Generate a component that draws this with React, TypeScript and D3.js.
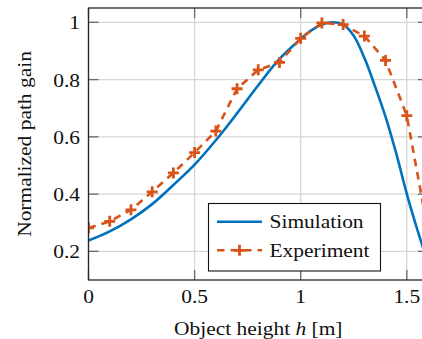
import React from "react";
import * as d3 from "d3";

// Object height h [m] at which the experiment was sampled
const expHeights = [0, 0.1, 0.2, 0.3, 0.4, 0.5, 0.6, 0.7, 0.8, 0.9, 1.0, 1.1, 1.2, 1.3, 1.4, 1.5, 1.6];
// Normalized path gain measured in the experiment
const expGain = [0.282, 0.305, 0.345, 0.408, 0.474, 0.545, 0.62, 0.768, 0.834, 0.86, 0.944, 0.998, 0.992, 0.952, 0.867, 0.674, 0.27];

// Simulated normalized path gain
const simHeights = [0, 0.1, 0.2, 0.3, 0.4, 0.5, 0.6, 0.7, 0.8, 0.9, 1.0, 1.05, 1.1, 1.15, 1.2, 1.25, 1.3, 1.35, 1.4, 1.45, 1.5, 1.55, 1.6];
const simGain = [0.238, 0.27, 0.312, 0.365, 0.432, 0.503, 0.588, 0.682, 0.78, 0.872, 0.942, 0.972, 0.992, 1.0, 0.992, 0.953, 0.876, 0.777, 0.67, 0.543, 0.401, 0.275, 0.16];

const xTicks = [0, 0.5, 1, 1.5];
const yTicks = [0.2, 0.4, 0.6, 0.8, 1];
const xTickLabels = ["0", "0.5", "1", "1.5"];
const yTickLabels = ["0.2", "0.4", "0.6", "0.8", "1"];

const W = 422;
const H = 339;
const plot = { left: 88.5, top: 8, right: 428, bottom: 280 };

const BLUE = "#0072BD";
const ORANGE = "#D95319";
const FONT = '"Liberation Serif", "DejaVu Serif", serif';
const FS = 19.5;
const SX = 1.1; // horizontal widening of the serif glyphs
const TICK = 10;

function Plus({ x, y }: { x: number; y: number }) {
  const s = 5.5;
  return (
    <path
      d={`M${x - s},${y}H${x + s}M${x},${y - s}V${y + s}`}
      stroke={ORANGE}
      strokeWidth={2.8}
      fill="none"
    />
  );
}

function Label({ x, y, anchor, children, rotate = 0 }: any) {
  return (
    <text
      transform={`translate(${x},${y}) rotate(${rotate}) scale(${SX},1)`}
      textAnchor={anchor}
      style={{ fontFamily: FONT, fontSize: `${FS}px` }}
      fill="#111"
    >
      {children}
    </text>
  );
}

export default function App() {
  const x = d3.scaleLinear().domain([0, 1.6]).range([plot.left, plot.right]);
  const y = d3.scaleLinear().domain([0.1, 1.05]).range([plot.bottom, plot.top]);

  const simLine = d3
    .line<number>()
    .x((_, i) => x(simHeights[i]))
    .y((d) => y(d))
    .curve(d3.curveCatmullRom.alpha(0.5))(simGain) as string;

  const expLine = d3
    .line<number>()
    .x((_, i) => x(expHeights[i]))
    .y((d) => y(d))(expGain) as string;

  const legend = { x0: 208.5, y0: 203.5, x1: 380.5, y1: 271 };
  const row1 = 221.7;
  const row2 = 250.3;
  const sampleX0 = 217;
  const sampleX1 = 262;

  return (
    <svg
      width={W}
      height={H}
      viewBox={`0 0 ${W} ${H}`}
      style={{ position: "absolute", left: 0, top: 0, background: "#fff" }}
    >
      <defs>
        <clipPath id="plot-area">
          <rect x={plot.left} y={plot.top} width={plot.right - plot.left} height={plot.bottom - plot.top} />
        </clipPath>
      </defs>
      <rect width={W} height={H} fill="#fff" />

      {/* grid */}
      <g stroke="#d6d6d6" strokeWidth={1.3}>
        {xTicks.map((t) => (
          <line key={`gx${t}`} x1={x(t)} x2={x(t)} y1={plot.top} y2={plot.bottom} />
        ))}
        {yTicks.map((t) => (
          <line key={`gy${t}`} x1={plot.left} x2={plot.right} y1={y(t)} y2={y(t)} />
        ))}
      </g>

      {/* ticks on all four sides, pointing inward */}
      <g stroke="#6a6a6a" strokeWidth={1.3}>
        {xTicks.map((t) => (
          <g key={`tx${t}`}>
            <line x1={x(t)} x2={x(t)} y1={plot.bottom} y2={plot.bottom - TICK} />
            <line x1={x(t)} x2={x(t)} y1={plot.top} y2={plot.top + TICK} />
          </g>
        ))}
        {yTicks.map((t) => (
          <g key={`ty${t}`}>
            <line x1={plot.left} x2={plot.left + TICK} y1={y(t)} y2={y(t)} />
            <line x1={plot.right} x2={plot.right - TICK} y1={y(t)} y2={y(t)} />
          </g>
        ))}
      </g>

      {/* data */}
      <g clipPath="url(#plot-area)">
        <path d={simLine} fill="none" stroke={BLUE} strokeWidth={2.6} />
        <path d={expLine} fill="none" stroke={ORANGE} strokeWidth={2.6} strokeDasharray="7.5 6" />
        {expGain.map((g, i) => (
          <Plus key={`m${i}`} x={x(expHeights[i])} y={y(g)} />
        ))}
      </g>

      {/* axis frame */}
      <rect
        x={plot.left}
        y={plot.top}
        width={plot.right - plot.left}
        height={plot.bottom - plot.top}
        fill="none"
        stroke="#262626"
        strokeWidth={1.3}
      />

      {/* tick labels */}
      {xTicks.map((t, i) => (
        <Label key={`lx${t}`} x={x(t)} y={303.3} anchor="middle">
          {xTickLabels[i]}
        </Label>
      ))}
      {yTicks.map((t, i) => (
        <Label key={`ly${t}`} x={80} y={y(t) + 7} anchor="end">
          {yTickLabels[i]}
        </Label>
      ))}

      {/* axis titles */}
      <Label x={(plot.left + plot.right) / 2} y={335} anchor="middle">
        Object height <tspan fontStyle="italic">h</tspan> [m]
      </Label>
      <Label x={31} y={(plot.top + plot.bottom) / 2} anchor="middle" rotate={-90}>
        Normalized path gain
      </Label>

      {/* legend */}
      <rect
        x={legend.x0}
        y={legend.y0}
        width={legend.x1 - legend.x0}
        height={legend.y1 - legend.y0}
        fill="#fff"
        stroke="#111"
        strokeWidth={1.1}
      />
      <line x1={sampleX0} x2={sampleX1} y1={row1} y2={row1} stroke={BLUE} strokeWidth={2.6} />
      <line
        x1={sampleX0}
        x2={sampleX1}
        y1={row2}
        y2={row2}
        stroke={ORANGE}
        strokeWidth={2.6}
        strokeDasharray="7.5 6"
      />
      <Plus x={(sampleX0 + sampleX1) / 2} y={row2} />
      <Label x={269.5} y={228.3} anchor="start">
        Simulation
      </Label>
      <Label x={269.5} y={257} anchor="start">
        Experiment
      </Label>
    </svg>
  );
}
